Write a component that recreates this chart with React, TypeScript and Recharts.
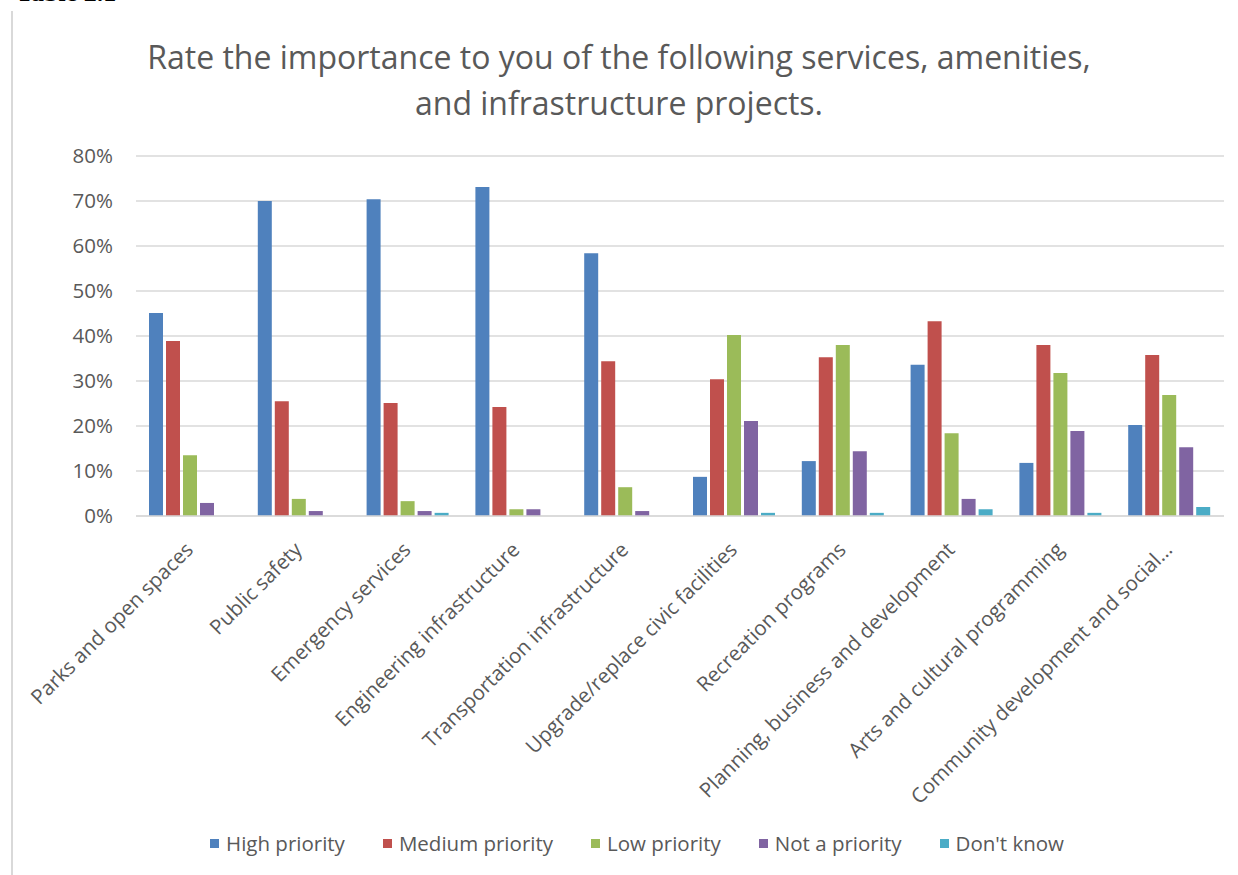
import { Bar, BarChart, CartesianGrid, Legend, XAxis, YAxis } from "recharts";

const categories = [
  "Parks and open spaces",
  "Public safety",
  "Emergency services",
  "Engineering infrastructure",
  "Transportation infrastructure",
  "Upgrade/replace civic facilities",
  "Recreation programs",
  "Planning, business and development",
  "Arts and cultural programming",
  "Community development and social…",
];

const high = [45.1, 70.0, 70.4, 73.1, 58.4, 8.7, 12.2, 33.6, 11.8, 20.2];
const medium = [38.9, 25.5, 25.1, 24.2, 34.4, 30.4, 35.3, 43.3, 38.0, 35.8];
const low = [13.5, 3.8, 3.3, 1.5, 6.4, 40.2, 38.0, 18.4, 31.8, 26.9];
const notPriority = [2.9, 1.1, 1.1, 1.5, 1.1, 21.1, 14.4, 3.8, 18.9, 15.3];
const dontKnow = [0, 0, 0.7, 0, 0, 0.7, 0.7, 1.5, 0.7, 2.0];

const yTicks = [0, 10, 20, 30, 40, 50, 60, 70, 80];

const series = [
  { key: "high", name: "High priority", color: "#4F81BD" },
  { key: "medium", name: "Medium priority", color: "#C0504D" },
  { key: "low", name: "Low priority", color: "#9BBB59" },
  { key: "not", name: "Not a priority", color: "#8064A2" },
  { key: "dk", name: "Don't know", color: "#4BACC6" },
];

const data = categories.map((name, i) => ({
  name,
  high: high[i],
  medium: medium[i],
  low: low[i],
  not: notPriority[i],
  dk: dontKnow[i],
}));

const TEXT = "#595959";
const FONT = "'Open Sans', sans-serif";

function CategoryTick({ x, y, payload }: any) {
  return (
    <g transform={`translate(${x + 4},${y + 27})`}>
      <text
        textAnchor="end"
        transform="rotate(-45)"
        fill={TEXT}
        fontSize={20.5}
        fontFamily={FONT}
      >
        {payload.value}
      </text>
    </g>
  );
}

function LegendContent() {
  return (
    <div style={{ display: "flex", justifyContent: "center", gap: 38, fontFamily: FONT }}>
      {series.map((s) => (
        <div key={s.key} style={{ display: "flex", alignItems: "center" }}>
          <span style={{ width: 9, height: 9, background: s.color, marginRight: 7 }} />
          <span style={{ fontSize: 20.5, color: TEXT }}>{s.name}</span>
        </div>
      ))}
    </div>
  );
}

export default function App() {
  return (
    <div
      style={{
        position: "absolute",
        top: 0,
        left: 0,
        width: 1238,
        height: 875,
        background: "#fff",
        overflow: "hidden",
      }}
    >
      <div
        style={{
          position: "absolute",
          top: -20,
          left: 16,
          fontFamily: "'Liberation Serif', serif",
          fontSize: 26,
          lineHeight: "26px",
          fontWeight: "bold",
          color: "#000",
        }}
      >
        Table 2.1
      </div>
      <div
        style={{
          position: "absolute",
          left: 11,
          top: 11,
          width: 2,
          height: 864,
          background: "#D9D9D9",
        }}
      />
      <div
        style={{
          position: "absolute",
          top: 34,
          left: 0,
          width: 1238,
          textAlign: "center",
          fontFamily: FONT,
          fontSize: 32,
          lineHeight: "46px",
          color: TEXT,
        }}
      >
        Rate the importance to you of the following services, amenities,
        <br />
        and infrastructure projects.
      </div>
      <BarChart
        width={1238}
        height={875}
        data={data}
        margin={{ top: 156, right: 14, bottom: 59, left: 0 }}
        barGap={3}
        barSize={14}
      >
        <CartesianGrid vertical={false} stroke="#D9D9D9" strokeWidth={1.5} />
        <XAxis
          dataKey="name"
          interval={0}
          height={300}
          tick={<CategoryTick />}
          tickLine={false}
          axisLine={{ stroke: "#D9D9D9", strokeWidth: 1.5 }}
        />
        <YAxis
          width={136}
          domain={[0, 80]}
          ticks={yTicks}
          tickFormatter={(v) => `${v}%`}
          axisLine={false}
          tickLine={false}
          tickMargin={17}
          tick={{ fill: TEXT, fontSize: 20.5, fontFamily: FONT }}
        />
        <Legend
          layout="horizontal"
          verticalAlign="middle"
          align="center"
          wrapperStyle={{ top: 829, left: 0, width: 1274 }}
          content={<LegendContent />}
        />
        {series.map((s) => (
          <Bar key={s.key} dataKey={s.key} name={s.name} fill={s.color} isAnimationActive={false} />
        ))}
      </BarChart>
    </div>
  );
}
